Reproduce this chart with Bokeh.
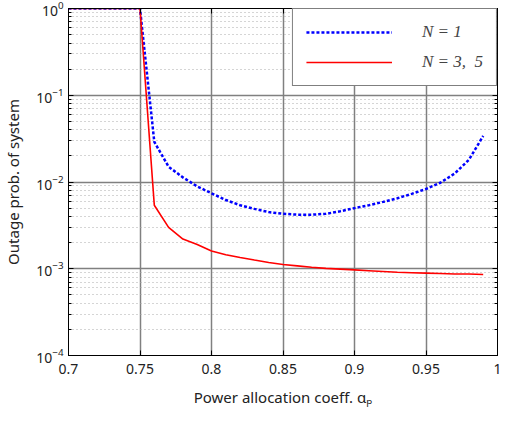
from bokeh.plotting import figure
from bokeh.models import FixedTicker, LogAxis, LinearAxis, Legend, LegendItem, LogTicker
from bokeh.embed import file_html
from bokeh.resources import INLINE

alpha = [0.70, 0.71, 0.72, 0.73, 0.74, 0.75, 0.76, 0.77, 0.78, 0.79, 0.80,
         0.81, 0.82, 0.83, 0.84, 0.85, 0.86, 0.87, 0.88, 0.89, 0.90,
         0.91, 0.92, 0.93, 0.94, 0.95, 0.96, 0.97, 0.98, 0.99]
n1 = [1, 1, 1, 1, 1, 1, 0.029, 0.015, 0.0113, 0.0089, 0.0074,
      0.0062, 0.0054, 0.0049, 0.0045, 0.0043, 0.0042, 0.0042, 0.0043, 0.0046, 0.0050,
      0.0054, 0.0059, 0.0065, 0.0073, 0.0083, 0.0098, 0.0125, 0.018, 0.034]
n35 = [1, 1, 1, 1, 1, 1, 0.0054, 0.0030, 0.0022, 0.0019, 0.0016,
       0.00145, 0.00135, 0.00126, 0.00118, 0.00112, 0.00108, 0.00104, 0.00101, 0.00099, 0.00097,
       0.00095, 0.00093, 0.00091, 0.00090, 0.00089, 0.00088, 0.00087, 0.00087, 0.00086]
x_ticks = [0.7, 0.75, 0.8, 0.85, 0.9, 0.95, 1.0]
x_tick_labels = ["0.7", "0.75", "0.8", "0.85", "0.9", "0.95", "1"]
labels = ["N = 1", "N = 3,  5"]

p = figure(width=501, height=409, x_range=(0.7, 1.0), y_range=(1e-4, 1.0),
           y_axis_type="log", output_backend="svg", toolbar_location=None,
           min_border_left=52, min_border_right=4, min_border_top=8, min_border_bottom=48)

font = "Noto Sans"
p.xaxis.ticker = FixedTicker(ticks=x_ticks)
p.xaxis.major_label_overrides = {t: l for t, l in zip(x_ticks, x_tick_labels)}
p.yaxis.ticker = LogTicker(desired_num_ticks=5, num_minor_ticks=10)
for ax in [p.xaxis[0], p.yaxis[0]]:
    ax.major_tick_in = 5
    ax.major_tick_out = 0
    ax.minor_tick_in = 3
    ax.minor_tick_out = 0
    ax.axis_line_color = "black"
    ax.major_label_text_font = font
    ax.major_label_text_font_size = "14px"
    ax.major_label_text_color = "#222222"
    ax.axis_label_text_font = font
    ax.axis_label_text_font_style = "normal"
    ax.axis_label_text_font_size = "15px"
    ax.axis_label_text_color = "#222222"
p.xaxis.minor_tick_line_color = None
p.xaxis.major_label_standoff = 8
p.yaxis.major_label_standoff = 5
p.xaxis.axis_label = "Power allocation coeff. αₚ"
p.yaxis.axis_label = "Outage prob. of system"
p.xaxis.axis_label_standoff = 10
p.yaxis.axis_label_standoff = 10

ry = LogAxis(ticker=LogTicker(desired_num_ticks=5, num_minor_ticks=10),
             major_label_text_color=None, major_tick_in=5, major_tick_out=0,
             minor_tick_in=3, minor_tick_out=0)
p.add_layout(ry, "right")
tx = LinearAxis(ticker=FixedTicker(ticks=x_ticks), major_label_text_color=None,
                major_tick_in=5, major_tick_out=0, minor_tick_line_color=None)
p.add_layout(tx, "above")

p.outline_line_color = "black"
p.xgrid.grid_line_color = "#808080"
p.xgrid.grid_line_width = 1.5
p.ygrid.grid_line_color = "#808080"
p.ygrid.grid_line_width = 1.5
p.ygrid.minor_grid_line_color = "#aaaaaa"
p.ygrid.minor_grid_line_dash = "1 3"

r1 = p.line(alpha, n1, line_color="blue", line_width=2.5, line_dash="3 2")
r2 = p.line(alpha, n35, line_color="red", line_width=1.6)

legend = Legend(items=[LegendItem(label=labels[0], renderers=[r1]),
                       LegendItem(label=labels[1], renderers=[r2])],
                location="top_right", margin=0, padding=13, spacing=10,
                glyph_width=86, glyph_height=18, label_height=18, label_width=58,
                label_standoff=30, border_line_color="black", border_line_width=1.2,
                label_text_font="Liberation Serif", label_text_font_size="17px",
                label_text_font_style="italic", background_fill_alpha=1)
p.add_layout(legend, "center")

open("out.html", "w").write(file_html(p, INLINE))
